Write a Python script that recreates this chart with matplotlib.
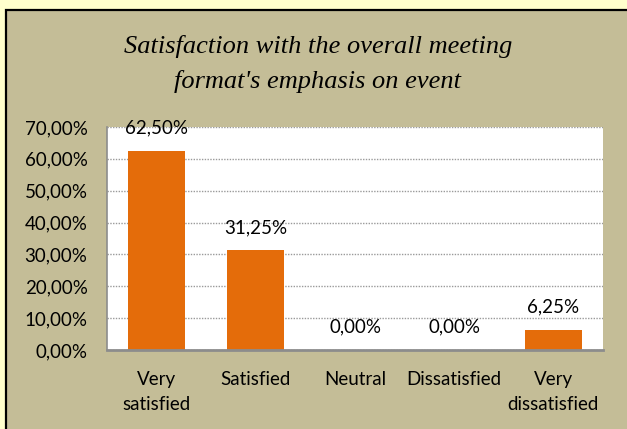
import matplotlib
matplotlib.use('Agg')
import matplotlib.pyplot as plt
from matplotlib.patches import Rectangle
from matplotlib.ticker import FuncFormatter

# dados do gráfico
categorias = ['Very\nsatisfied', 'Satisfied', 'Neutral', 'Dissatisfied', 'Very\ndissatisfied']
valores = [62.50, 31.25, 0.00, 0.00, 6.25]
ticks_y = [0, 10, 20, 30, 40, 50, 60, 70]
titulo = "Satisfaction with the overall meeting\nformat's emphasis on event"

fig = plt.figure(figsize=(6.27, 4.29), dpi=100)
fig.patch.set_facecolor('#FFFFCC')

# moldura do gráfico (fundo bege com borda preta)
moldura = Rectangle((6 / 627, -0.1), 1.2, 1.1 - 9.5 / 429, transform=fig.transFigure,
                    facecolor='#C4BD97', edgecolor='black', linewidth=1.6, zorder=-1)
fig.patches.append(moldura)

ax = fig.add_axes([107 / 627, 79 / 429, 496 / 627, 223 / 429])
ax.set_zorder(2)
ax.set_facecolor('white')

x = range(len(categorias))
barras = ax.bar(x, valores, width=0.575, color='#E46C0A', zorder=3)

for xi, v in zip(x, valores):
    ax.annotate(f"{v:.2f}%".replace('.', ','), (xi, v), xytext=(0, 16.5),
                textcoords='offset points', ha='center', va='center',
                fontsize=13.5, family='Lato', color='black', zorder=4)

ax.set_xlim(-0.5, len(categorias) - 0.5)
ax.set_ylim(0, 70)
ax.set_yticks(ticks_y)
ax.yaxis.set_major_formatter(FuncFormatter(lambda v, p: f"{v:.2f}%".replace('.', ',')))
ax.set_xticks(list(x))
ax.set_xticklabels(categorias)

for lbl in ax.get_xticklabels() + ax.get_yticklabels():
    lbl.set_family('Lato')
    lbl.set_fontsize(13.5)
for lbl in ax.get_xticklabels():
    lbl.set_linespacing(1.6)

ax.tick_params(axis='y', length=0, pad=14)
ax.tick_params(axis='x', length=0, pad=15)

# grade pontilhada
ax.yaxis.grid(True, linestyle=(0, (1, 1)), color='#9A9A9A', linewidth=1.0, zorder=1)
ax.set_axisbelow(True)

ax.spines['top'].set_visible(False)
ax.spines['right'].set_visible(False)
ax.spines['left'].set_color('#8C8C8C')
ax.spines['left'].set_linewidth(1.2)
ax.spines['bottom'].set_color('#8C8C8C')
ax.spines['bottom'].set_linewidth(2)
ax.spines['bottom'].set_zorder(5)

fig.text(318 / 627, 1 - 64 / 429, titulo, ha='center', va='center',
         fontsize=19, family='Liberation Serif', style='italic',
         linespacing=1.65, color='black', zorder=3)

fig.savefig('out.png', dpi=100, facecolor=fig.get_facecolor())
